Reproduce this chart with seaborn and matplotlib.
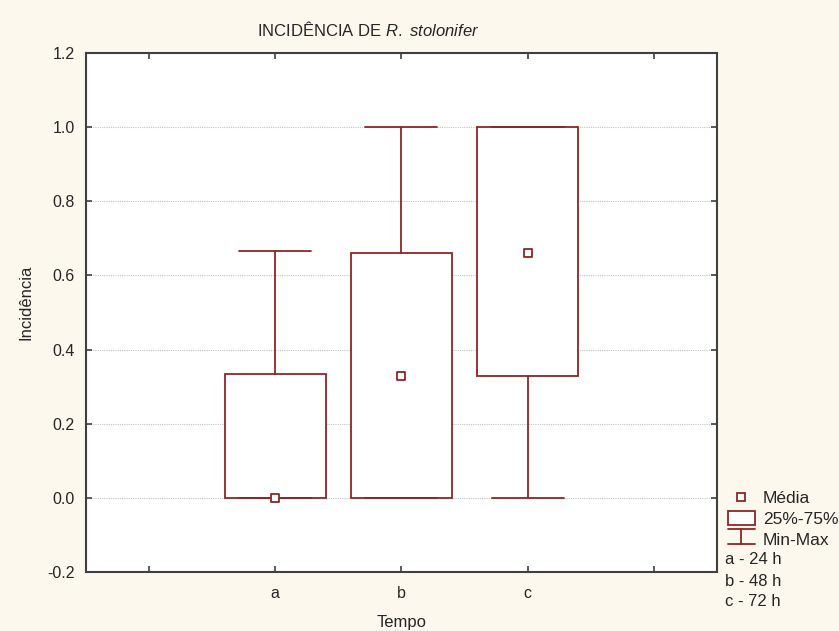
import matplotlib
matplotlib.use("Agg")
import matplotlib.pyplot as plt
import seaborn as sns
import pandas as pd
from matplotlib.lines import Line2D
from matplotlib.patches import Rectangle

# summary values
tempos = ["a", "b", "c"]
minimos = [0.0, 0.0, 0.0]
q1 = [0.0, 0.0, 0.33]
q3 = [0.333, 0.66, 1.0]
maximos = [0.667, 1.0, 1.0]
medias = [0.0, 0.33, 0.66]
legenda_tempo = ["a - 24 h", "b - 48 h", "c - 72 h"]

cor = "#8f2525"
fundo = "#fdf8ee"

sns.set_style("white")
plt.rcParams["font.family"] = ["Liberation Sans", "DejaVu Sans"]
plt.rcParams["mathtext.fontset"] = "custom"
plt.rcParams["mathtext.rm"] = "Liberation Sans"
plt.rcParams["mathtext.it"] = "Liberation Sans:italic"

fig = plt.figure(figsize=(8.39, 6.31), dpi=100, facecolor=fundo)
ax = fig.add_axes([0.1025, 0.0935, 0.752, 0.8225])
ax.set_facecolor("white")

posicoes = [2, 3, 4]
stats = []
for i in range(len(tempos)):
    stats.append({
        "label": tempos[i],
        "whislo": minimos[i],
        "q1": q1[i],
        "med": q1[i],
        "q3": q3[i],
        "whishi": maximos[i],
    })

ax.bxp(
    stats,
    positions=posicoes,
    widths=0.8,
    capwidths=0.57,
    showfliers=False,
    patch_artist=True,
    boxprops=dict(facecolor="white", edgecolor=cor, linewidth=1.3),
    whiskerprops=dict(color=cor, linewidth=1.3),
    capprops=dict(color=cor, linewidth=1.3),
    medianprops=dict(linewidth=0),
    manage_ticks=False,
    zorder=2,
)

df_media = pd.DataFrame({"pos": posicoes, "media": medias})
sns.scatterplot(
    data=df_media, x="pos", y="media", ax=ax,
    marker="s", s=40, facecolor="white", edgecolor=cor, linewidth=1.3,
    zorder=3, legend=False
)

yticks = [-0.2, 0.0, 0.2, 0.4, 0.6, 0.8, 1.0, 1.2]
ax.set_xlim(0.5, 5.5)
ax.set_ylim(-0.2, 1.2)
ax.set_xticks([1, 2, 3, 4, 5])
ax.set_xticklabels([""] + tempos + [""])
ax.set_yticks(yticks)
ax.set_yticklabels([f"{v:.1f}" for v in yticks])
ax.tick_params(direction="in", length=4, width=1.2, color="#404040",
               labelsize=11.5, top=True, right=True, bottom=True, left=True)
ax.tick_params(axis="y", pad=8)
ax.tick_params(axis="x", pad=10)
ax.grid(axis="y", linestyle=(0, (1, 1)), color="#c4c4c4", linewidth=0.8)
ax.set_axisbelow(True)
for sp in ax.spines.values():
    sp.set_color("#404040")
    sp.set_linewidth(1.5)

ax.set_xlabel("")
ax.set_ylabel("")
fig.text(402 / 839, 1 - 622 / 631, "Tempo", ha="center", va="center", fontsize=12)
fig.text(26 / 839, 1 - 302 / 631, "Incidência", ha="center", va="center",
         rotation=90, fontsize=12)
fig.text(368 / 839, 1 - 30 / 631, r"INCIDÊNCIA DE $\it{R.}$ $\it{stolonifer}$",
         ha="center", va="center", fontsize=12)


class MinMaxHandler:
    def legend_artist(self, legend, orig_handle, fontsize, handlebox):
        x0, y0 = handlebox.xdescent, handlebox.ydescent
        w, h = handlebox.width, handlebox.height
        linhas = [
            Line2D([x0, x0 + w], [y0 + h, y0 + h]),
            Line2D([x0 + w / 2, x0 + w / 2], [y0, y0 + h]),
            Line2D([x0, x0 + w], [y0, y0]),
        ]
        for ln in linhas:
            ln.set_color(cor)
            ln.set_linewidth(1.3)
            handlebox.add_artist(ln)
        return linhas[0]


h_media = Line2D([], [], marker="s", linestyle="none", markersize=6,
                 markerfacecolor="white", markeredgecolor=cor, markeredgewidth=1.3)
h_caixa = Rectangle((0, 0), 1, 1, facecolor="white", edgecolor=cor, linewidth=1.3)
h_minmax = object()
fig.legend(
    [h_media, h_caixa, h_minmax], ["Média", "25%-75%", "Min-Max"],
    handler_map={h_minmax: MinMaxHandler()},
    loc="upper left", bbox_to_anchor=(728 / 839, 1 - 490 / 631),
    frameon=False, fontsize=12.5, handlelength=1.55, handleheight=0.92,
    handletextpad=0.46, labelspacing=0.26, borderpad=0, borderaxespad=0,
)

for i, txt in enumerate(legenda_tempo):
    fig.text(725 / 839, 1 - (560 + 21 * i) / 631, txt, ha="left", va="center",
             fontsize=12)

fig.savefig("out.png", dpi=100, facecolor=fundo)
